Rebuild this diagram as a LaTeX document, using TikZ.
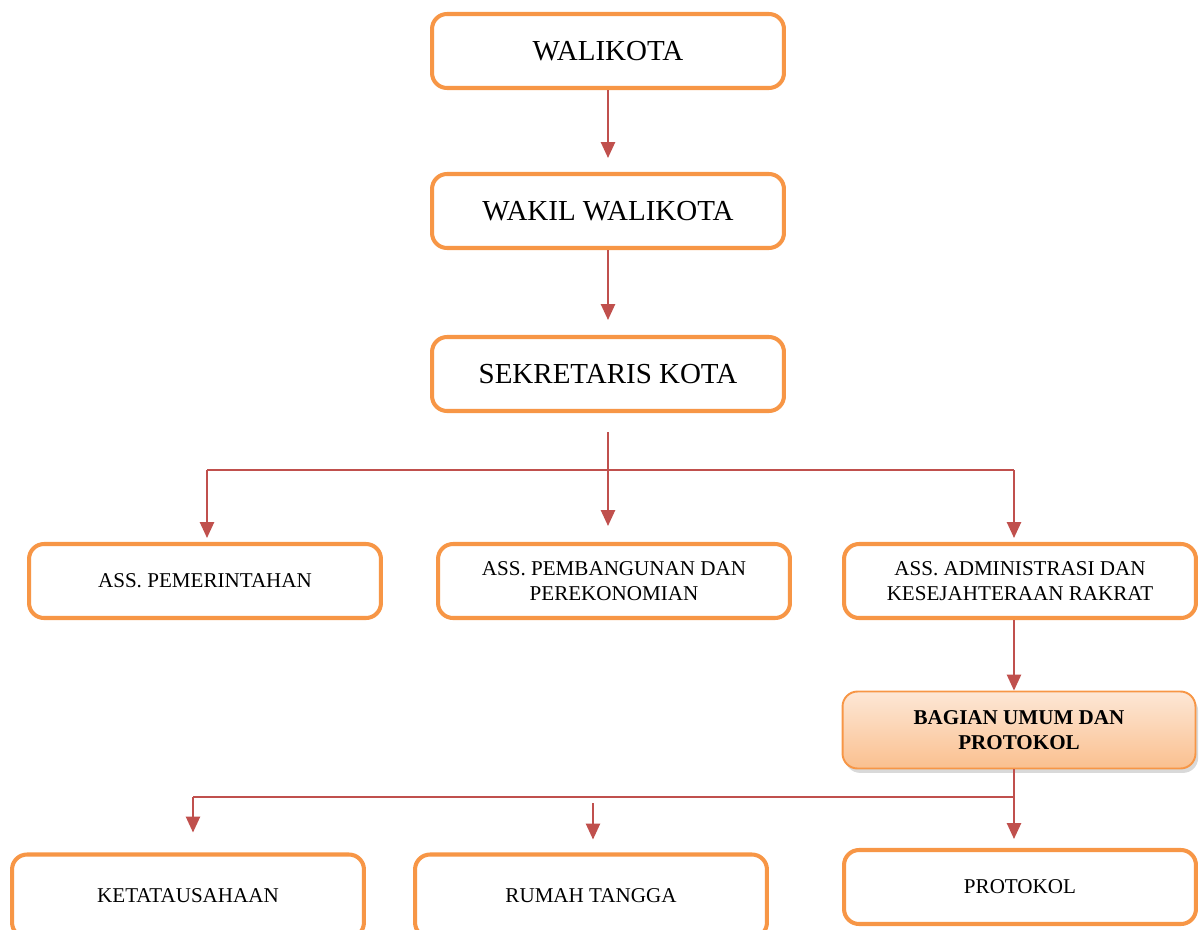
\documentclass[tikz,border=0pt]{standalone}
\usepackage{fontspec}
\setmainfont{Liberation Serif}
\usetikzlibrary{arrows.meta,shadows}
\definecolor{boxorange}{HTML}{F79646}
\definecolor{linkred}{HTML}{C0504D}
\definecolor{fadetop}{HTML}{FDE7D6}
\definecolor{fadebottom}{HTML}{FAC08F}

\begin{document}
\begin{tikzpicture}[x=0.02cm, y=-0.02cm,
    block/.style={rectangle, rounded corners=0.3cm, draw=boxorange, line width=2.3pt, fill=white, minimum width=7.04cm, minimum height=1.48cm, align=center, font=\fontsize{12}{13.8}\selectfont},
    bigblock/.style={block, font=\fontsize{16.5}{20}\selectfont},
    lowblock/.style={block, minimum height=1.66cm},
    unitblock/.style={block, line width=1.1pt, minimum width=7.06cm, minimum height=1.54cm, top color=fadetop, bottom color=fadebottom, drop shadow={opacity=0.3, shadow xshift=1.5pt, shadow yshift=-2.5pt}, font=\fontsize{12}{13.8}\selectfont\bfseries},
    link/.style={draw=linkred, line width=1.1pt},
    arr/.style={link, -{Triangle[width=8pt,length=9pt]}}]
    \useasboundingbox (0,0) rectangle (1204,930);
    \node[bigblock] (walikota) at (608,51) {WALIKOTA};
    \node[bigblock] (wakil) at (608,211) {WAKIL WALIKOTA};
    \node[bigblock] (sekda) at (608,374) {SEKRETARIS KOTA};
    \node[block] (pemerintahan) at (205,581) {ASS. PEMERINTAHAN};
    \node[block] (pembangunan) at (614,581) {ASS. PEMBANGUNAN DAN\\PEREKONOMIAN};
    \node[block] (administrasi) at (1020,581) {ASS. ADMINISTRASI DAN\\KESEJAHTERAAN RAKRAT};
    \node[unitblock] (bagian) at (1019,730) {BAGIAN UMUM DAN\\PROTOKOL};
    \node[lowblock] (tatausaha) at (188,896) {KETATAUSAHAAN};
    \node[lowblock] (rumahtangga) at (591,896) {RUMAH TANGGA};
    \node[block] (protokol) at (1020,887) {PROTOKOL};
    \coordinate (splitA) at (207,470);
    \coordinate (splitB) at (1014,470);
    \coordinate (splitC) at (193,797);
    \coordinate (splitD) at (1014,797);
    \coordinate (rumahtop) at (593,803);
    \draw[arr, shorten >=0.28cm] (walikota) -- (wakil);
    \draw[arr, shorten >=0.3cm] (wakil) -- (sekda);
    \draw[arr, shorten <=0.38cm, shorten >=0.32cm] (sekda.south) -- (sekda.south |- pembangunan.north);
    \draw[link] (splitA) -- (splitB);
    \draw[arr, shorten >=0.08cm] (splitA) -- (splitA |- pemerintahan.north);
    \draw[arr, shorten >=0.08cm] (splitB) -- (splitB |- administrasi.north);
    \draw[arr] (splitB |- administrasi.south) -- (splitB |- bagian.north);
    \draw[arr, shorten >=0.18cm] (splitD |- bagian.south) -- (splitD |- protokol.north);
    \draw[link] (splitC) -- (splitD);
    \draw[arr, shorten >=0.4cm] (splitC) -- (splitC |- tatausaha.north);
    \draw[arr, shorten >=0.26cm] (rumahtop) -- (rumahtop |- rumahtangga.north);
\end{tikzpicture}
\end{document}
